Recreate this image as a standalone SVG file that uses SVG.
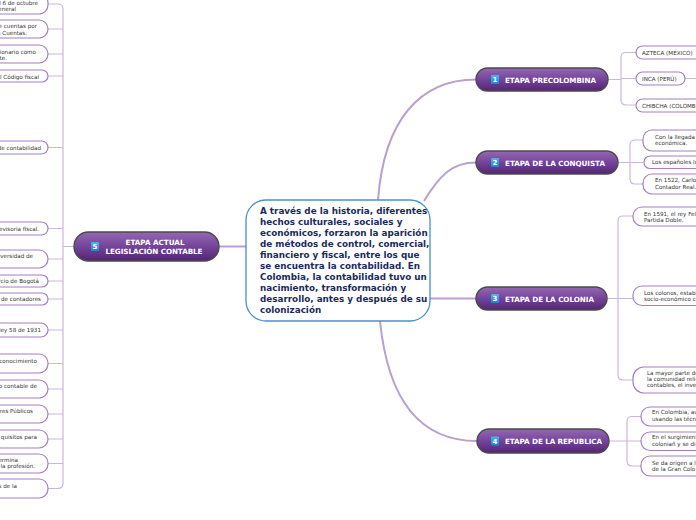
<svg xmlns="http://www.w3.org/2000/svg" width="696" height="520" viewBox="0 0 696 520">
<defs>
<linearGradient id="pg" x1="0" y1="0" x2="0" y2="1">
<stop offset="0" stop-color="#9468b2"/>
<stop offset="0.5" stop-color="#74449a"/>
<stop offset="1" stop-color="#552472"/>
</linearGradient>
<linearGradient id="bg" x1="0" y1="0" x2="0" y2="1">
<stop offset="0" stop-color="#4fb3f0"/>
<stop offset="1" stop-color="#1e84d2"/>
</linearGradient>
</defs>
<style>
.main{fill:url(#pg);stroke:#4b4b4b;stroke-width:1.4}
.badge{fill:url(#bg)}
.bn{font-family:"DejaVu Sans",sans-serif;font-weight:bold;font-size:7px;fill:#fff;text-anchor:middle}
.mt{font-family:"DejaVu Sans",sans-serif;font-weight:bold;font-size:7.2px;fill:#fff}
.leaf{fill:#fff;stroke:#a47fc4;stroke-width:1.2}
.lt{font-family:"DejaVu Sans",sans-serif;font-size:5.6px;fill:#333}
.le{font-family:"DejaVu Sans",sans-serif;font-size:5.6px;fill:#333;text-anchor:end}
.c{fill:none;stroke:#cbb6dd;stroke-width:1.2}
.cm{fill:none;stroke:#b9a0d0;stroke-width:2}
.ct{font-family:"DejaVu Sans",sans-serif;font-weight:bold;font-size:8.8px;fill:#1b2b5e}
</style>
<rect width="696" height="520" fill="#fff"/>
<g id="connectors">
<path class="cm" d="M378,200 C384,120 420,79.5 476,79.5"/>
<path class="cm" d="M424,201 C440,175 452,162.5 476,162.5"/>
<path class="cm" d="M430,298.5 H476"/>
<path class="cm" d="M380,321 C388,400 420,441 477,441"/>
<path class="cm" d="M246,246.5 H219"/>
<path class="c" d="M608,79.5 H621 M636,52.5 H626 Q621,52.5 621,57.5 V100 Q621,105 626,105 H636 M621,78.5 H636 M685,78.5 H696"/>
<path class="c" d="M618,162.5 H643 M643,140 H635 Q630,140 630,145 V179 Q630,184 635,184 H643"/>
<path class="c" d="M607,298.5 H633 M633,216 H623 Q618,216 618,221 V375 Q618,380 623,380 H633"/>
<path class="c" d="M609,441 H641 M641,416.5 H632 Q627,416.5 627,421.5 V461 Q627,466 632,466 H641"/>
<path class="c" d="M74,246.5 H63 M48,4 H58 Q63,4 63,9 V483.5 Q63,488.5 58,488.5 H48 M48,29 H63 M48,54 H63 M48,76 H63 M48,147.5 H63 M48,228.5 H63 M48,259 H63 M48,281 H63 M48,299 H63 M48,330 H63 M48,363.5 H63 M48,389 H63 M48,414 H63 M48,439 H63 M48,463.5 H63"/>
</g>
<g id="center">
<rect x="246" y="200" width="184" height="121" rx="20" fill="#fff" stroke="#4a90d0" stroke-width="1.3"/>
<text class="ct" x="260" y="214">A través de la historia, diferentes</text>
<text class="ct" x="260" y="225">hechos culturales, sociales y</text>
<text class="ct" x="260" y="236">económicos, forzaron la aparición</text>
<text class="ct" x="260" y="247">de métodos de control, comercial,</text>
<text class="ct" x="260" y="258">financiero y fiscal, entre los que</text>
<text class="ct" x="260" y="269">se encuentra la contabilidad. En</text>
<text class="ct" x="260" y="280">Colombia, la contabilidad tuvo un</text>
<text class="ct" x="260" y="291">nacimiento, transformación y</text>
<text class="ct" x="260" y="302">desarrollo, antes y después de su</text>
<text class="ct" x="260" y="313">colonización</text>
</g>
<g id="n1">
<rect class="main" x="476" y="68" width="132" height="23" rx="11.5"/>
<rect class="badge" x="491" y="75" width="8" height="9" rx="1"/>
<text class="bn" x="495" y="82">1</text>
<text class="mt" x="505" y="82.5" textLength="91">ETAPA PRECOLOMBINA</text>
</g>
<g id="n1a"><rect class="leaf" x="636" y="46" width="90" height="13" rx="6.5"/><text class="lt" x="642" y="54.5">AZTECA (MÉXICO)</text></g>
<g id="n1b"><rect class="leaf" x="636" y="72" width="49" height="13" rx="6.5"/><text class="lt" x="642" y="80.5">INCA (PERÚ)</text></g>
<g id="n1c"><rect class="leaf" x="636" y="99" width="90" height="13" rx="6.5"/><text class="lt" x="642" y="107.5">CHIBCHA (COLOMB</text></g>
<g id="n2">
<rect class="main" x="476" y="151" width="142" height="23" rx="11.5"/>
<rect class="badge" x="491" y="158" width="8" height="9" rx="1"/>
<text class="bn" x="495" y="165">2</text>
<text class="mt" x="505" y="165.5" textLength="100">ETAPA DE LA CONQUISTA</text>
</g>
<g id="n2a"><rect class="leaf" x="643" y="130" width="90" height="21" rx="9"/><text class="lt" x="655" y="139">Con la llegada</text><text class="lt" x="655" y="145">económica.</text></g>
<g id="n2b"><rect class="leaf" x="644" y="156" width="90" height="12.5" rx="6"/><text class="lt" x="652" y="164">Los españoles lo</text></g>
<g id="n2c"><rect class="leaf" x="643" y="174" width="90" height="20" rx="9"/><text class="lt" x="655" y="182">En 1522, Carlo</text><text class="lt" x="655" y="189">Contador Real.</text></g>
<g id="n3">
<rect class="main" x="476" y="287" width="131" height="23" rx="11.5"/>
<rect class="badge" x="491" y="294" width="8" height="9" rx="1"/>
<text class="bn" x="495" y="301">3</text>
<text class="mt" x="505" y="301.5" textLength="89">ETAPA DE LA COLONIA</text>
</g>
<g id="n3a"><rect class="leaf" x="633" y="207" width="90" height="19" rx="9"/><text class="lt" x="644" y="215.5">En 1591, el rey Fel</text><text class="lt" x="644" y="221.5">Partida Doble.</text></g>
<g id="n3b"><rect class="leaf" x="633" y="286" width="90" height="19.5" rx="9"/><text class="lt" x="644" y="294.5">Los colonos, establ</text><text class="lt" x="644" y="300.5">socio-económico co</text></g>
<g id="n3c"><rect class="leaf" x="633" y="367" width="90" height="26" rx="11"/><text class="lt" x="647" y="375">La mayor parte de</text><text class="lt" x="647" y="381">la comunidad relig</text><text class="lt" x="647" y="387">contables, el inve</text></g>
<g id="n4">
<rect class="main" x="477" y="429" width="132" height="24" rx="12"/>
<rect class="badge" x="491" y="436.5" width="8" height="9" rx="1"/>
<text class="bn" x="495" y="443.5">4</text>
<text class="mt" x="505" y="444" textLength="97">ETAPA DE LA REPUBLICA</text>
</g>
<g id="n4a"><rect class="leaf" x="641" y="407" width="90" height="19" rx="9"/><text class="lt" x="652" y="414">En Colombia, au</text><text class="lt" x="652" y="421">usando las técni</text></g>
<g id="n4b"><rect class="leaf" x="641" y="432" width="90" height="18.5" rx="9"/><text class="lt" x="652" y="439">En el surgimient</text><text class="lt" x="652" y="446">coloniañ y se di</text></g>
<g id="n4c"><rect class="leaf" x="641" y="456" width="90" height="20" rx="9"/><text class="lt" x="652" y="464.5">Se da origen a l</text><text class="lt" x="652" y="471">de la Gran Colo</text></g>
<g id="n5">
<rect class="main" x="74" y="232" width="145" height="29" rx="14.5"/>
<rect class="badge" x="91" y="242" width="8" height="9" rx="1"/>
<text class="bn" x="95" y="249">5</text>
<text class="mt" x="155" y="244.5" text-anchor="middle">ETAPA ACTUAL</text>
<text class="mt" x="154" y="253.5" text-anchor="middle" textLength="97">LEGISLACIÓN CONTABLE</text>
</g>
<g id="l1"><rect class="leaf" x="-40" y="-6" width="88" height="20" rx="9"/><text class="le" x="38" y="5">l 6 de octubre</text><text class="le" x="16" y="10.5">eneral</text></g>
<g id="l2"><rect class="leaf" x="-40" y="20" width="88" height="18" rx="9"/><text class="le" x="37" y="28">e cuentas por</text><text class="le" x="27" y="34.5">a Cuentas.</text></g>
<g id="l3"><rect class="leaf" x="-40" y="45" width="88" height="18" rx="9"/><text class="le" x="36" y="53.5">cionario como</text><text class="le" x="7" y="59.5">te.</text></g>
<g id="l4"><rect class="leaf" x="-40" y="70" width="88" height="12" rx="6"/><text class="le" x="39" y="78.5">l Código fiscal</text></g>
<g id="l5"><rect class="leaf" x="-40" y="141" width="88" height="13" rx="6.5"/><text class="le" x="41" y="149.5">de contabilidad</text></g>
<g id="l6"><rect class="leaf" x="-40" y="222" width="88" height="13" rx="6.5"/><text class="le" x="39" y="231">evisoria fiscal.</text></g>
<g id="l7"><rect class="leaf" x="-40" y="250" width="88" height="18" rx="9"/><text class="le" x="33" y="258">iversidad de</text></g>
<g id="l8"><rect class="leaf" x="-40" y="275" width="88" height="12" rx="6"/><text class="le" x="39" y="283">rcio de Bogotá</text></g>
<g id="l9"><rect class="leaf" x="-40" y="293" width="88" height="12" rx="6"/><text class="le" x="41" y="301">de contadores</text></g>
<g id="l10"><rect class="leaf" x="-40" y="323" width="88" height="14" rx="7"/><text class="le" x="41" y="332">ley 58 de 1931</text></g>
<g id="l11"><rect class="leaf" x="-40" y="354" width="88" height="19" rx="9"/><text class="le" x="37" y="363">econocimiento</text></g>
<g id="l12"><rect class="leaf" x="-40" y="380" width="88" height="18" rx="9"/><text class="le" x="37" y="388">o contable de</text></g>
<g id="l13"><rect class="leaf" x="-40" y="405" width="88" height="18" rx="9"/><text class="le" x="33" y="413">eres Públicos</text></g>
<g id="l14"><rect class="leaf" x="-40" y="430" width="88" height="18" rx="9"/><text class="le" x="37" y="438.5">quisitos para</text></g>
<g id="l15"><rect class="leaf" x="-40" y="454" width="88" height="19" rx="9"/><text class="le" x="18" y="462">ermina</text><text class="le" x="35" y="468">la profesión.</text></g>
<g id="l16"><rect class="leaf" x="-40" y="479" width="88" height="19" rx="9"/><text class="le" x="17" y="487.5">s de la</text></g>
</svg>
